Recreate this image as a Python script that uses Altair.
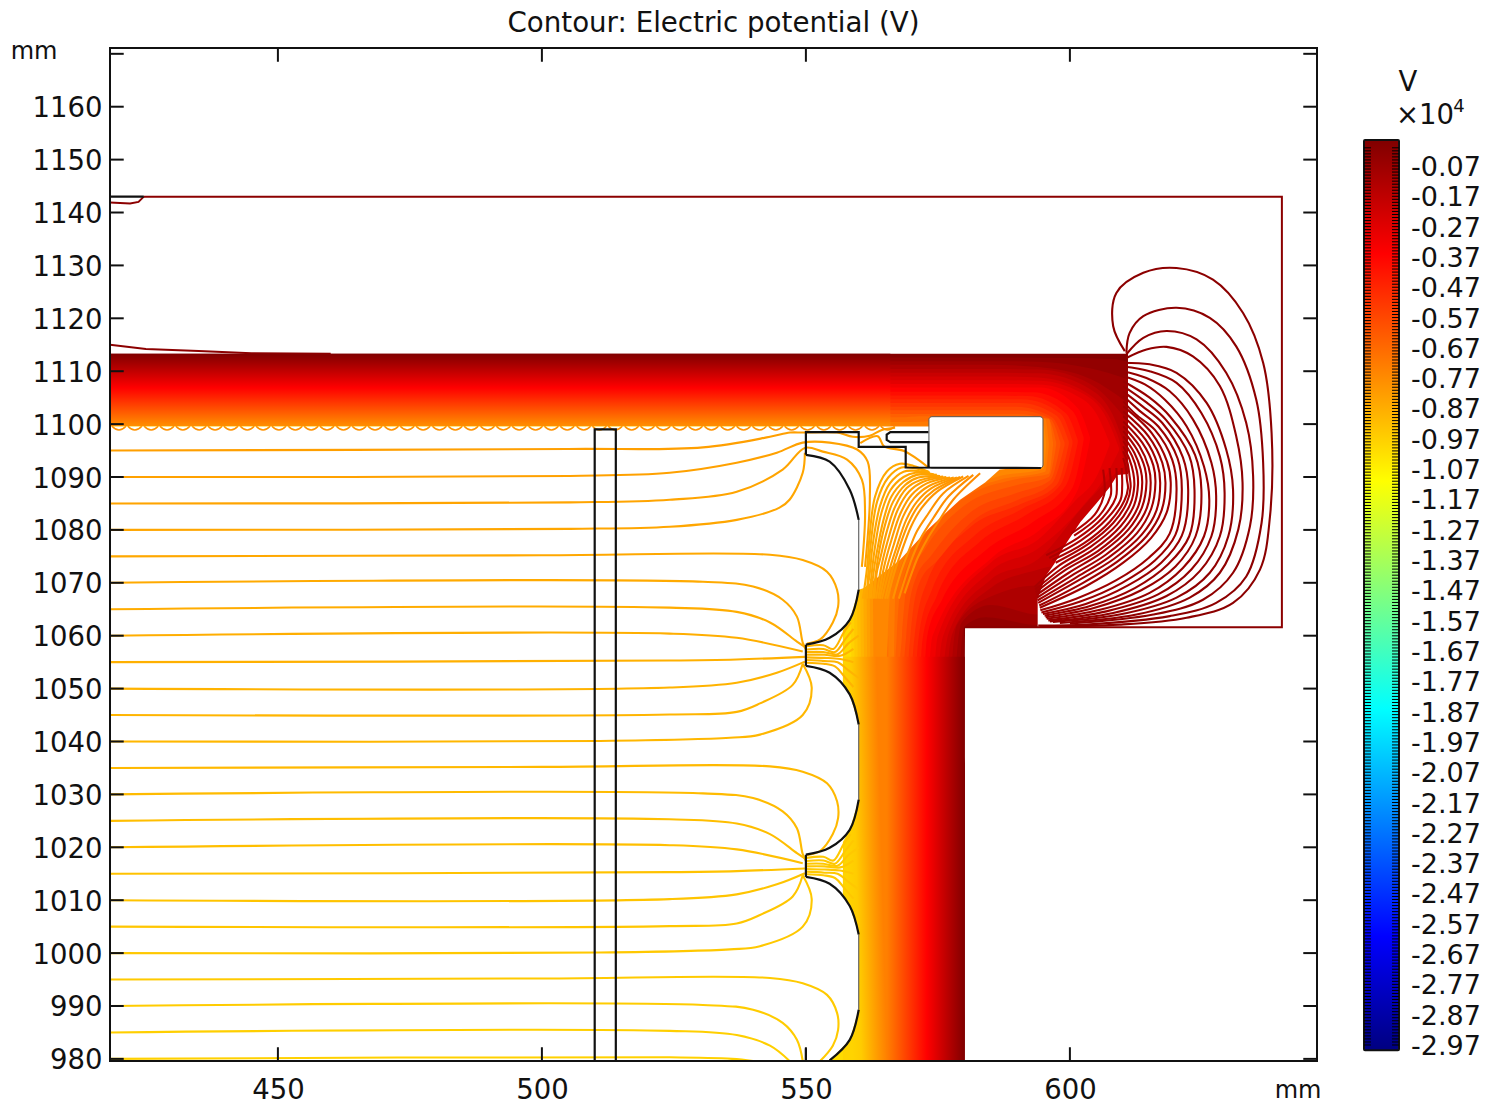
import altair as alt
import pandas as pd

# ---------- axes ----------
X_DOMAIN = [418.2, 646.8]
Y_DOMAIN = [979.6, 1171.1]
X_TICKS = [450, 500, 550, 600]
Y_TICKS = [980, 990, 1000, 1010, 1020, 1030, 1040, 1050, 1060, 1070, 1080, 1090, 1100, 1110, 1120, 1130, 1140, 1150, 1160, 1170]
Y_LABELS = Y_TICKS[:-1]
TITLE = "Contour: Electric potential (V)"

# ---------- colour scale (units of 10^4 V) ----------
CMAP_VALUES = [-2.987, -2.612, -1.862, -1.112, -0.362, 0.016]
CMAP_COLORS = ["#000080", "#0000ff", "#00ffff", "#ffff00", "#ff0000", "#800000"]
BAR_LABELS = ["-0.07", "-0.17", "-0.27", "-0.37", "-0.47", "-0.57", "-0.67", "-0.77", "-0.87", "-0.97",
              "-1.07", "-1.17", "-1.27", "-1.37", "-1.47", "-1.57", "-1.67", "-1.77", "-1.87", "-1.97",
              "-2.07", "-2.17", "-2.27", "-2.37", "-2.47", "-2.57", "-2.67", "-2.77", "-2.87", "-2.97"]

# ---------- filled field: for each level, (x, y_low, y_high) of the part lighter than it ----------
LEVEL_BANDS = [
 (0.0,  [(418.2,979.6,1113.3),(580.1,979.6,1113.3),(580.15,1061.6,1113.3),(611,1061.6,1113.3)]),
 (-.04, [(418.2,979.6,1112.6),(579.3,979.6,1112.6),(580,1061.7,1112.6),(600,1061.7,1112.5),(608,1061.7,1112.3),(611,1061.7,1111.8)]),
 (-.08, [(418.2,979.6,1111.9),(578.5,979.6,1111.9),(579,1050,1111.9),(580,1061.7,1111.9),(584,1063.5,1111.9),(594,1062,1111.8),(604,1062,1110.5),(611,1062,1108.5)]),
 (-.12, [(418.2,979.6,1111.2),(577.7,979.6,1111.2),(578.2,1050,1111.2),(579.5,1062.5,1111.2),(585,1065.8,1111.2),(594,1064,1110.8),(604,1064,1108.5),(611,1064,1104)]),
 (-.16, [(418.2,979.6,1110.4),(576.9,979.6,1110.4),(577.4,1050,1110.4),(578.6,1062,1110.4),(585,1067.4,1110.4),(594,1069.5,1110.3),(604,1069.5,1107.5),(611,1069.5,1100.5)]),
 (-.20, [(418.2,979.6,1109.7),(576.1,979.6,1109.7),(576.6,1050,1109.7),(577.8,1060.5,1109.7),(585,1069,1109.7),(594,1072.5,1109.6),(604,1075,1106.5),(608,1085,1102),(611,1090,1094)]),
 (-.24, [(418.2,979.6,1109),(575.3,979.6,1109),(575.8,1050,1109),(577.2,1061,1109),(585,1070.6,1109),(594,1074.5,1108.8),(603,1085,1106),(609,1091,1098),(610.3,1092,1092.5)]),
 (-.28, [(418.2,979.6,1108.3),(574.5,979.6,1108.3),(575,1050,1108.3),(576,1060,1108.3),(585,1072.2,1108.3),(594,1076.5,1108.2),(602,1084,1106),(607,1090.5,1101),(609.3,1095,1095.5)]),
 (-.32, [(418.2,979.6,1107.6),(573.7,979.6,1107.6),(574.2,1050,1107.6),(575,1060,1107.6),(585,1073.8,1107.6),(594,1078.2,1107.5),(601,1085.5,1105.5),(605,1090,1102),(607.5,1096,1096.5)]),
 (-.36, [(418.2,979.6,1106.9),(572.9,979.6,1106.9),(573.2,1050,1106.9),(574,1060,1106.9),(585.4,1074.9,1106.9),(594.3,1080,1106.9),(601.5,1087.6,1103),(603.8,1097,1097.5)]),
 (-.40, [(418.2,979.6,1106.1),(572.1,979.6,1106.1),(572.4,1050,1106.1),(573,1060,1106.1),(575.8,1066.8,1106.1),(584,1076.1,1106.1),(593,1081.5,1106),(600.5,1088,1102.5),(602.6,1097,1097.5)]),
 (-.44, [(418.2,979.6,1105.4),(571.3,979.6,1105.4),(571.6,1050,1105.4),(572.2,1060,1105.4),(574.8,1067.5,1105.4),(583,1077.8,1105.4),(592,1083,1105.3),(599.3,1088.5,1102),(601.5,1096.5,1097)]),
 (-.48, [(418.2,979.6,1104.7),(570.5,979.6,1104.7),(570.8,1050,1104.7),(571.4,1060,1104.7),(573.8,1068.5,1104.7),(582,1079,1104.7),(591,1084,1104.7),(598.2,1088.5,1102),(600.5,1096.3,1096.8)]),
 (-.52, [(418.2,979.6,1104),(569.7,979.6,1104),(570,1050,1104),(570.6,1060,1104),(572.9,1070,1104),(581,1080.4,1104),(590.5,1084.8,1104),(597.5,1088.5,1101.6),(599.8,1096.2,1096.7)]),
 (-.56, [(418.2,979.6,1103.3),(568.9,979.6,1103.3),(569.2,1050,1103.3),(569.8,1060,1103.3),(571.5,1070,1103.3),(575,1074.3,1103.3),(582,1082,1103.3),(590,1085.6,1103.3),(596.6,1088.8,1101.3),(599,1096,1096.5)]),
 (-.60, [(418.2,979.6,1102.6),(568.1,979.6,1102.6),(568.4,1050,1102.6),(569,1060,1102.6),(570.5,1070,1102.6),(574,1075.5,1102.6),(581,1083.2,1102.6),(590,1087,1102.6),(596.3,1089.4,1101),(598.2,1096,1096.5)]),
 (-.64, [(418.2,979.6,1101.9),(567.3,979.6,1101.9),(567.6,1050,1101.9),(568.2,1060,1101.9),(569.2,1070,1101.9),(572.5,1076.3,1101.9),(580,1084.6,1101.9),(590,1088.5,1101.9),(596,1090,1100.8),(597.4,1096,1096.5)]),
 (-.68, [(418.2,979.6,1101.3),(566.5,979.6,1101.3),(566.8,1050,1101.3),(567.2,1060,1101.3),(568,1069,1101.3),(571.5,1077.3,1101.5),(579.5,1085.7,1101.5),(590,1089.6,1101.5),(596,1090.6,1101),(596.8,1096,1096.5)]),
 (-.72, [(418.2,979.6,1100.4),(565.7,979.6,1100.4),(565.2,1050,1100.4),(565.6,1060,1100.4),(567,1069,1100.4),(570.6,1078.1,1100.4),(579.2,1086.6,1101),(586.7,1089.5,1101),(595.3,1091,1101),(596,1096,1096.5)]),
 (-.76, [(418.2,979.6,1099.7),(564.9,979.6,1099.7),(565.2,1050,1099.7),(565.5,1060,1099.7),(566,1068,1099.7),(569,1078,1099.7),(578,1086.5,1099.7),(586,1090,1099.7),(595,1091.5,1099.7),(595.5,1096,1096.5)]),
 (-.80, [(418.2,979.6,1099.6),(562.6,979.6,1099.6),(562.65,979.6,1075),(564.1,979.6,979.6)]),
 (-.83, [(418.2,979.6,1099.6),(562.0,979.6,1099.6),(562.05,979.6,1075),(563.5,979.6,979.6)]),
 (-.86, [(418.2,979.6,1099.6),(561.4,979.6,1099.6),(561.45,979.6,1075),(562.9,979.6,979.6)]),
 (-.89, [(418.2,979.6,1099.6),(560.8,979.6,1099.6),(560.85,979.6,1075),(562.3,979.6,979.6)]),
 (-.92, [(418.2,979.6,1099.6),(560.2,979.6,1099.6),(560.25,979.6,1075),(561.7,979.6,979.6)]),
 (-.95, [(418.2,979.6,1099.6),(559.6,979.6,1099.6),(559.65,979.6,1075),(561.1,979.6,979.6)]),
 (-.98, [(418.2,979.6,1099.6),(559.0,979.6,1099.6),(559.05,979.6,1075),(560.5,979.6,979.6)]),
 (-1.01,[(418.2,979.6,1099.6),(558.4,979.6,1099.6),(558.45,979.6,1075),(559.9,979.6,979.6)]),
]

# smooth straight stretches of the field
BAND_TOP = {"x": 418.2, "x2": 566.0, "y": 1099.6, "y2": 1113.3}
BAND_TOP_STOPS = [(0, "#800000"), (0.47, "#ff0000"), (1, "#ff9000")]
BAND_RIGHT = {"x": 565.3, "x2": 580.1, "y": 979.6, "y2": 1056.0}
BAND_RIGHT_STOPS = [(0, "#ff8000"), (0.514, "#ff0000"), (1, "#800000")]
BAND_GOLD = {"x": 557.0, "x2": 565.35, "y": 979.6, "y2": 1056.0}
BAND_GOLD_STOPS = [(0, "#ffd400"), (0.198, "#ffcc00"), (0.566, "#ff9800"), (0.746, "#ff8000"), (1, "#ff8000")]
BAND_GOLD_VECTOR = (0, 0.12, 1, -0.12)

# white, field-free areas: y and the right-hand limit of the air on the left
AIR_Y = [979.6, 983.6, 989.3, 1003.5, 1008.9, 1011, 1021, 1023.3, 1029, 1043.2, 1048.9, 1051, 1061, 1063, 1068.7, 1069, 1074.3, 1080, 1085.7, 1089, 1091.4, 1091.7, 1092, 1099.55]
AIR_X = [554.5, 558.3, 560, 560, 558.3, 557, 557, 558.3, 560, 560, 558.3, 557, 557, 558.3, 560, 561, 567.8, 573, 579.2, 584, 586.7, 590, 575, 575]
FAN_GAP_X = [593.9, 595.5, 597, 599, 602, 605, 607.5, 609, 611.5]
FAN_GAP_Y = [1067, 1071.4, 1073.5, 1077, 1081.5, 1085, 1088, 1090.4, 1090.6]
HOLE = {"x": 573.3, "x2": 594.9, "y": 1091.7, "y2": 1101.4}

# ---------- contour lines in the air, level and (x, y) ----------
AIR_LINES = [
 (-.83, [(418.2,1095),(505,1095.3),(530.5,1095.6),(543.2,1097.6),(547,1098.4),(549.4,1098.4),(555.9,1098.4),(558.9,1097.6),(562.1,1097.8),(564.4,1098.9),(566.9,1099.3)]),
 (-.836,[(418.2,1090),(505.3,1090.2),(524.2,1090.8),(536.9,1092.7),(544.5,1094.6),(549.4,1096.5),(554.5,1096.5),(559.7,1095.2),(561.7,1092.9),(562.1,1085.7),(561.2,1073)]),
 (-.843,[(418.2,1085),(505.3,1085.2),(524.2,1085.7),(536.9,1087.2),(545.6,1091.4),(549.8,1095.5),(553.2,1094.8),(557.8,1093.3),(560.6,1089.5),(561.2,1083.2),(560.6,1073)]),
 (-.85, [(418.2,1080),(505.3,1080.2),(524.2,1080.6),(536.9,1081.9),(545,1084.2),(546.9,1085.7),(549.4,1090.8),(549.8,1094.6)]),
 (-.856,[(418.2,1075),(500,1075.2),(543.2,1075.3),(549.4,1074.3),(554,1072.1),(555.9,1068.7),(556.1,1065.5),(555.1,1062.5),(552.7,1059.3),(550.2,1058.5)]),
 (-.862,[(418.2,1070),(530.5,1070.2),(540,1069.3),(545.6,1066.8),(548.3,1063.6),(549.4,1058.7),(550,1057.4)]),
 (-.868,[(418.2,1065),(524.2,1065.3),(536.9,1064.5),(543.2,1062.5),(548.3,1058.9),(549.8,1057.9)]),
 (-.875,[(418.2,1060),(524.2,1060.4),(536.9,1059.6),(549.4,1057)]),
 (-.881,[(418.2,1055),(524.2,1055.3),(536.9,1055.5),(549.8,1056)]),
 (-.888,[(418.2,1050),(524.2,1050.2),(536.9,1051.1),(544.5,1053),(549.8,1055.1)]),
 (-.894,[(418.2,1045),(524.2,1045.1),(536.9,1045.6),(541.3,1047.2),(547.5,1050.7),(549.4,1054.7)]),
 (-.90, [(418.2,1040),(511,1040.1),(535.6,1040.7),(541.3,1041.3),(549.4,1045),(551.1,1050.2),(549.4,1054.7)]),
 (-.906,[(418.2,1035),(500,1035.2),(543.2,1035.3),(549.4,1034.3),(554,1032.1),(555.9,1028.7),(556.1,1025.5),(555.1,1022.5),(552.7,1019.3),(550.2,1018.5)]),
 (-.913,[(418.2,1030),(530.5,1030.2),(540,1029.3),(545.6,1026.8),(548.3,1023.6),(549.4,1018.7),(550,1017.4)]),
 (-.92, [(418.2,1025),(524.2,1025.3),(536.9,1024.5),(543.2,1022.5),(548.3,1018.9),(549.8,1017.9)]),
 (-.925,[(418.2,1020),(524.2,1020.4),(536.9,1019.6),(549.4,1017)]),
 (-.932,[(418.2,1015),(524.2,1015.3),(536.9,1015.5),(549.8,1016)]),
 (-.938,[(418.2,1010),(524.2,1010.2),(536.9,1011.1),(544.5,1013),(549.8,1015.1)]),
 (-.945,[(418.2,1005),(524.2,1005.1),(536.9,1005.6),(541.3,1007.2),(547.5,1010.7),(549.4,1014.7)]),
 (-.95, [(418.2,1000),(511,1000.1),(535.6,1000.7),(541.3,1001.3),(549.4,1005),(551.1,1010.2),(549.4,1014.7)]),
 (-.957,[(418.2,995),(500,995.2),(543.2,995.3),(549.4,994.3),(554,992.1),(555.9,988.7),(556.1,985.5),(555.1,982.5),(552.7,979.6)]),
 (-.963,[(418.2,990),(530.5,990.2),(540,989.3),(545.6,986.8),(548.3,983.6),(549.4,979.6)]),
 (-.97, [(418.2,985),(524.2,985.3),(536.9,984.5),(543.2,982.5),(546.9,979.6)]),
 (-.976,[(418.2,980),(524.2,980.3),(536,980),(540,979.6)]),
 # between the electrodes
 (-.89, [(550.1,1058),(553.3,1058.2),(555.2,1057.5),(557.1,1060.5),(558.5,1062.5)]),
 (-.89, [(550.1,1057.4),(553.3,1057.5),(555.5,1056.9),(557.5,1059.4),(559,1061.3)]),
 (-.89, [(550.1,1056.9),(553.3,1056.9),(556,1056.5),(558,1058.5),(560,1060)]),
 (-.89, [(550.1,1056.4),(553.5,1056.4),(556.5,1056.2),(559,1057.5)]),
 (-.89, [(550.1,1055.9),(553.5,1055.8),(556.5,1055.6),(559,1055)]),
 (-.89, [(550.1,1055.4),(553.5,1055.2),(556,1055),(558,1053.5),(560,1052)]),
 (-.89, [(550.1,1054.9),(553.3,1054.7),(555.5,1054.2),(557.5,1052),(559,1050.3)]),
 (-.95, [(550.1,1018),(553.3,1018.2),(555.2,1017.5),(557.1,1020.5),(558.5,1022.5)]),
 (-.95, [(550.1,1017.4),(553.3,1017.5),(555.5,1016.9),(557.5,1019.4),(559,1021.3)]),
 (-.95, [(550.1,1016.9),(553.3,1016.9),(556,1016.5),(558,1018.5),(560,1020)]),
 (-.95, [(550.1,1016.4),(553.5,1016.4),(556.5,1016.2),(559,1017.5)]),
 (-.95, [(550.1,1015.9),(553.5,1015.8),(556.5,1015.6),(559,1015)]),
 (-.95, [(550.1,1015.4),(553.5,1015.2),(556,1015),(558,1013.5),(560,1012)]),
 (-.95, [(550.1,1014.9),(553.3,1014.7),(555.5,1014.2),(557.5,1012),(559,1010.3)]),
 # under the hole
 (-.83, [(560.3,1096.4),(563.6,1097.7),(564.8,1095.8),(568.6,1094.9),(573.2,1091.8)]),
 (-.86, [(573.2,1091),(570.4,1092.1),(567.8,1092.5),(565.3,1091),(563.1,1086.3),(562,1078.1),(561.6,1073),(560.8,1067)]),
 (-.855,[(573.4,1090.9),(570.4,1091.7),(568.1,1091.8),(565.6,1089.9),(563.5,1085.4),(562.3,1077.5),(561.5,1067)]),
 (-.85, [(573.5,1090.7),(570.4,1091.2),(568.5,1091),(565.9,1088.8),(564,1084.4),(562.6,1076.8),(562.1,1071.8),(561.3,1067)]),
 (-.845,[(574.2,1090.5),(570.7,1090.8),(568.5,1090),(566,1087.5),(564.3,1083.2),(563,1076.2),(562,1067)]),
 (-.84, [(574.8,1090.4),(571,1090.4),(568.5,1089.1),(566.2,1086.3),(564.7,1081.9),(563.4,1075.6),(562.8,1071.8),(562.3,1067)]),
 (-.835,[(575.4,1090.2),(571.3,1089.9),(568.8,1088.5),(566.5,1085.3),(565,1081),(563.7,1075),(562.7,1067)]),
 (-.83, [(576,1090.1),(571.6,1089.4),(569.1,1087.9),(566.9,1084.4),(565.4,1080),(564,1074.3),(563.4,1071.8),(563,1067)]),
 (-.825,[(576.6,1090),(572.2,1089.1),(569.5,1087.2),(567.4,1083.8),(565.8,1079),(564.4,1073.6),(563.3,1067)]),
 (-.82, [(577.3,1089.9),(572.9,1088.8),(570,1086.6),(567.9,1083.1),(566.2,1078.1),(564.8,1073),(563.7,1067)]),
 (-.815,[(578,1089.9),(573.3,1088.3),(570.5,1086),(568.4,1082.5),(566.7,1077.4),(565.3,1072.7),(564,1067)]),
 (-.81, [(578.6,1089.9),(573.8,1087.9),(571,1085.3),(569,1081.9),(567.2,1076.8),(565.8,1072.4),(564.4,1067)]),
 (-.805,[(579.2,1090),(574.3,1087.5),(571.4,1084.7),(569.4,1081.2),(567.6,1076.4),(566.4,1072.6),(565,1067)]),
 (-.80, [(579.8,1090.1),(574.8,1087.2),(571.9,1084.1),(569.9,1080.6),(568.1,1075.9),(566.9,1072.4),(565.4,1067)]),
 (-.79, [(580.8,1090.2),(576,1086.9),(573.2,1083.1),(571,1079.7),(569.2,1075.3),(568.1,1072.4),(566.5,1067)]),
 (-.78, [(581.7,1090.4),(577,1086.3),(574.1,1082.2),(571.9,1078.7),(570.2,1074.9),(569.4,1072.7),(567.6,1067)]),
 (-.77, [(583,1090.7),(577.9,1085.7),(575.1,1081.6),(572.9,1078.1),(571.1,1074.6),(568.7,1068)]),
]

# ---------- contour arcs on the right-hand side, all near the top of the scale ----------
ARC_LINES = [
 (-.02, [(610.4,1113.8),(608.2,1118.5),(608.8,1124.8),(613.9,1128.6),(620.2,1129.5),(627.1,1127.3),(632.8,1121),(636.6,1111.6),(638.2,1098.3),(637.9,1082.6),(636,1072.5),(630.9,1066.2),(622.1,1063.4),(609.4,1062.1),(594.3,1061.8)]),
 (-.024,[(610.7,1113.5),(611.3,1117.2),(613.9,1120.4),(620.2,1122),(626.5,1120.1),(631.5,1114.7),(635.3,1104.6),(636.6,1092.7),(636.3,1081.3),(633.4,1071.2),(627.7,1066.2),(618.9,1063.7),(603.1,1062.1),(594,1061.9)]),
 (-.028,[(610.7,1113.2),(613.9,1116.3),(618.3,1117.6),(624,1116),(629.6,1109.7),(633.4,1100.2),(634.7,1090.2),(634.1,1080.7),(630.9,1071.9),(625.2,1066.8),(615.8,1064),(600,1062.3)]),
 (-.032,[(610.7,1112.5),(614.5,1114.1),(618.3,1114.6),(623.3,1112.8),(628.4,1107.2),(631.5,1097.7),(632.7,1088.9),(631.9,1080.1),(628.4,1071.9),(622.7,1067.2),(612.6,1064),(598.1,1062.4)]),
 (-.036,[(610.2,1111.6),(615.1,1111.3),(620.2,1109.7),(625.9,1104),(629.6,1095.2),(630.9,1087.6),(630,1078.8),(626.5,1071.9),(620.2,1067.2),(609.4,1064),(596.8,1062.6)]),
 (-.04, [(610.1,1110.9),(615.1,1110),(620.2,1107.8),(624.9,1102.1),(628.4,1093.9),(629.3,1087),(628.4,1078.8),(624.6,1072.2),(618.3,1067.5),(608.2,1064.3),(596.2,1062.7)]),
 (-.044,[(610.1,1110),(614.5,1108.7),(618.9,1106.2),(623.3,1100.9),(626.8,1092.7),(627.7,1086.4),(626.8,1078.8),(623,1072.5),(616.7,1067.8),(606.9,1064.6),(595.9,1062.9)]),
 (-.048,[(610.1,1109.1),(614.2,1107.5),(618,1104.6),(622.1,1099.6),(625.4,1092),(626.4,1085.7),(625.4,1078.8),(621.4,1072.8),(615.1,1068.1),(605.7,1064.9),(595.6,1063.2)]),
 (-.052,[(610.1,1108.1),(615.1,1105),(619,1101.4),(623.7,1094.2),(624.9,1087.6),(623.8,1078.8),(620,1073.1),(613.5,1068.6),(604.7,1065.3),(595.4,1063.5)]),
 (-.056,[(610.1,1107.2),(614.5,1104.1),(618.2,1100.8),(622.6,1094),(623.6,1087.6),(622.6,1078.8),(618.6,1073.5),(612.3,1069),(603.8,1065.6),(595.2,1063.8)]),
 (-.06, [(610.1,1106.2),(613.7,1103.4),(617.5,1100.2),(621.4,1093.7),(622.4,1087.6),(621.2,1078.9),(617.3,1073.8),(611,1069.5),(603,1066),(594.9,1064.1)]),
 (-.064,[(610.1,1105.3),(613.1,1102.6),(616.8,1099.5),(620.4,1093.5),(621.2,1087.6),(620,1079.1),(616.1,1074.2),(609.9,1070),(602.1,1066.5),(594.6,1064.4)]),
 (-.068,[(610.1,1104.3),(612.5,1101.8),(616.1,1098.9),(619.4,1093.2),(620.2,1087.6),(618.9,1079.3),(614.9,1074.7),(608.8,1070.5),(601.2,1067),(594.4,1064.8)]),
 (-.072,[(610.1,1103.4),(615.5,1098.3),(618.4,1092.9),(619.1,1088.9),(618.3,1083.2),(615.4,1078.5),(610.1,1073.8),(603.1,1069.4),(594.3,1065.3)]),
 (-.076,[(610.1,1102.4),(614.9,1097.7),(617.5,1092.7),(618.1,1088.9),(617.3,1083.5),(614.5,1078.8),(609.1,1074.1),(602.5,1070),(594.2,1065.7)]),
 (-.08, [(610.1,1101.5),(614.3,1097.1),(616.6,1092.4),(617.1,1088.9),(616.4,1083.7),(613.6,1079.1),(608.3,1074.5),(601.7,1070.5),(594,1066.2)]),
 (-.084,[(610.1,1100.5),(613.7,1096.5),(615.8,1092.2),(616.2,1088.9),(615.4,1084),(612.7,1079.4),(607.5,1074.9),(601,1070.9),(593.9,1066.7)]),
 (-.088,[(610.1,1099.6),(613.2,1095.8),(614.9,1091.9),(615.3,1088.9),(614.6,1084.2),(611.9,1079.8),(606.8,1075.3),(600.4,1071.4),(593.8,1067.2)]),
 (-.092,[(610.1,1098.7),(612.7,1095.2),(614.2,1091.7),(614.5,1088.9),(613.7,1084.4),(611.1,1080.1),(606,1075.7),(599.8,1071.9),(593.7,1067.7)]),
 (-.096,[(610.1,1097.7),(612.2,1094.6),(613.4,1091.4),(613.7,1088.9),(613,1084.6),(610.4,1080.4),(605.3,1076),(599.1,1072.4),(593.5,1068.2)]),
 (-.10, [(610.1,1096.8),(611.8,1093.9),(612.7,1091.1),(612.9,1088.6),(612.2,1084.8),(609.6,1080.7),(604.6,1076.4),(598.6,1072.8),(593.4,1068.7)]),
 (-.104,[(610.1,1095.8),(611.3,1093.3),(612,1090.8),(612.2,1088.4),(611.5,1085),(608.9,1081),(603.9,1076.8),(598,1073.3),(593.3,1069.2)]),
 (-.108,[(610.1,1094.9),(610.9,1092.7),(611.3,1090.2),(611.5,1088.1),(610.8,1085.2),(608.2,1081.3),(603.3,1077.2),(597.3,1073.8)]),
 (-.112,[(610.1,1093.6),(610.6,1091.7),(610.8,1089.5),(611,1087.9),(610.3,1085.5),(607.6,1081.6),(602.7,1077.5),(596.7,1074.3)]),
 (-.116,[(609.8,1091.7),(609.9,1088.3),(609.6,1085.7),(606.9,1082),(602.1,1078),(596.1,1074.7)]),
 (-.12, [(608.8,1091.7),(608.9,1088.3),(608.7,1086.1),(606.2,1082.3),(601.4,1078.4),(595.5,1075.2)]),
 (-.124,[(607.5,1091.7),(607.8,1088.3),(607.7,1086.4),(605.5,1082.6),(600.8,1078.9)]),
 (-.128,[(606.3,1091.4),(606.6,1088.3),(606.5,1086.7),(604.7,1082.9),(600.2,1079.3)]),
]

# outer contour hugging the boundaries
EDGE_LINES = [
 (-.02, [(424.6,1143),(640.15,1143),(640.15,1061.6),(580.1,1061.6)]),
 (-.02, [(418.2,1141.9),(422,1141.7),(423.6,1142),(424.6,1143)]),
 (-.02, [(418.2,1115),(425,1114.2),(435,1113.8),(445,1113.4),(460,1113.3)]),
]

# small loops under the field edge
SCALLOP_X = [419.9,422.9,426.0,429.0,432.0,435.1,438.1,441.1,444.2,447.2,450.2,453.3,456.3,459.3,462.4,465.4,468.4,471.5,474.5,477.5,480.6,483.6,486.6,489.7,492.7,495.7,498.8,501.8,504.8,507.9,510.9,513.9,517.0,520.0,523.0,526.1,529.1,532.1,535.2,538.2,541.2,544.3,547.3,550.3,553.4,556.4,559.4,562.5,565.5]
SCALLOP_Y = 1099.45
SCALLOP_LEVEL = -.79

# ---------- black geometry ----------
GEO_HEAVY = [
 [(510,979.6),(510,1099),(514,1099),(514,979.6)],
 [(550,1094.2),(550,1098.5),(560,1098.5),(560,1095.7),(568.9,1095.7),(568.9,1091.8),(594.5,1091.7)],
 [(573.2,1098.5),(566,1098.5),(565.3,1098),(565.3,1097),(566,1096.6),(573.2,1096.6),(573.2,1091.8)],
 [(550,1058.3),(550,1054.3)],
 [(550,1018.6),(550,1014.4)],
 [(550,979.6),(550,982)],
 [(418.2,1143),(424.6,1143)],
]
GEO_CURVES = [
 [(550,1094.2),(554.5,1092.9),(558.3,1087.6),(560,1081.9)],
 [(560,1068.7),(558.3,1063),(554.5,1059.6),(550,1058.3)],
 [(550,1054.3),(554.5,1053),(558.3,1048.9),(560,1043.2)],
 [(560,1029),(558.3,1023.3),(554.5,1019.9),(550,1018.6)],
 [(550,1014.4),(554.5,1013.1),(558.3,1008.9),(560,1003.5)],
 [(560,989.3),(558.3,983.6),(554.5,979.7)],
]
GEO_THIN = [
 [(560,1081.9),(560,1068.7)],
 [(560,1043.2),(560,1029)],
 [(560,1003.5),(560,989.3)],
]

# ---------- colourbar geometry in value units ----------
BAR_TOP, BAR_BOTTOM = 0.016, -2.987
BAR_DOMAIN = [-3.0228, 0.3193]
BAR_STOPS = [(0, "#800000"), (0.125, "#ff0000"), (0.375, "#ffff00"), (0.625, "#00ffff"), (0.875, "#0000ff"), (1, "#000080")]
BAR_TICK_LEVELS = [round(-0.01 * i, 2) for i in range(1, 298)]

FONT = "DejaVu Sans"
INK = "#111111"
LABEL_SIZE = 27.5

x_scale = alt.Scale(domain=X_DOMAIN, nice=False, zero=False)
y_scale = alt.Scale(domain=Y_DOMAIN, nice=False, zero=False)
color_scale = alt.Scale(domain=CMAP_VALUES, range=CMAP_COLORS, interpolate="rgb")
bar_scale = alt.Scale(domain=BAR_DOMAIN, nice=False, zero=False)

x_axis = alt.Axis(values=X_TICKS, ticks=False, domain=False, grid=False, labelFont=FONT, title=None,
                  labelFontSize=LABEL_SIZE, labelColor=INK, labelPadding=15, format="d")
y_axis = alt.Axis(values=Y_LABELS, ticks=False, domain=False, grid=False, labelFont=FONT, title=None,
                  labelFontSize=LABEL_SIZE, labelColor=INK, labelPadding=8, labelOffset=2, format="d")


def X(f="x"):
    return alt.X(f + ":Q", scale=x_scale, axis=x_axis)


def Y(f="y"):
    return alt.Y(f + ":Q", scale=y_scale, axis=y_axis, stack=None)


def level_color(v):
    """Colour that the shared colour scale gives a level (for single-colour area fills)."""
    for i in range(len(CMAP_VALUES) - 1):
        a, b = CMAP_VALUES[i], CMAP_VALUES[i + 1]
        if a <= v <= b:
            t = (v - a) / (b - a)
            c0 = CMAP_COLORS[i]
            c1 = CMAP_COLORS[i + 1]
            ch = [round(int(c0[k:k + 2], 16) * (1 - t) + int(c1[k:k + 2], 16) * t) for k in (1, 3, 5)]
            return "#%02x%02x%02x" % tuple(ch)
    return CMAP_COLORS[-1]


def curve_df(curves):
    rows = []
    for cid, (lvl, pts) in enumerate(curves):
        for seq, (x, y) in enumerate(pts):
            rows.append({"id": cid, "seq": seq, "level": lvl, "x": x, "y": y})
    return pd.DataFrame(rows)


def geo_df(curves):
    rows = []
    for cid, pts in enumerate(curves):
        for seq, (x, y) in enumerate(pts):
            rows.append({"id": cid, "seq": seq, "x": x, "y": y})
    return pd.DataFrame(rows)


def lines(df, width, interp="catmull-rom"):
    return alt.Chart(df).mark_line(strokeWidth=width, interpolate=interp).encode(
        x=X(), y=Y(), detail="id:N", order="seq:Q",
        color=alt.Color("level:Q", scale=color_scale, legend=None))


def geo(df, width, color, interp="linear"):
    return alt.Chart(df).mark_line(strokeWidth=width, color=color, interpolate=interp).encode(
        x=X(), y=Y(), detail="id:N", order="seq:Q")


def gradient_rect(box, stops, vector):
    grad = alt.Gradient(gradient="linear",
                        stops=[alt.GradientStop(offset=o, color=c) for o, c in stops],
                        x1=vector[0], y1=vector[1], x2=vector[2], y2=vector[3])
    return alt.Chart(pd.DataFrame([box])).mark_rect(fill=grad, strokeWidth=0).encode(
        x=X(), x2="x2:Q", y=Y(), y2="y2:Q")


field_layers = []
for lvl, rows in LEVEL_BANDS:
    d = pd.DataFrame(rows, columns=["x", "lo", "hi"])
    field_layers.append(alt.Chart(d).mark_area(orient="vertical", interpolate="monotone", fill=level_color(lvl)).encode(
        x=X(), y=alt.Y("lo:Q", scale=y_scale, axis=y_axis, stack=None), y2="hi:Q"))

top_band = gradient_rect(BAND_TOP, BAND_TOP_STOPS, (0, 0, 0, 1))
right_band = gradient_rect(BAND_RIGHT, BAND_RIGHT_STOPS, (0, 0, 1, 0))
gold_band = gradient_rect(BAND_GOLD, BAND_GOLD_STOPS, BAND_GOLD_VECTOR)

air_mask = alt.Chart(pd.DataFrame({"y": AIR_Y, "right": AIR_X, "left": [X_DOMAIN[0]] * len(AIR_Y)})).mark_area(
    orient="horizontal", fill="white", interpolate="linear").encode(
    y=Y(), x=alt.X("left:Q", scale=x_scale, axis=x_axis, stack=None), x2="right:Q")
fan_mask = alt.Chart(pd.DataFrame({"x": FAN_GAP_X, "top": FAN_GAP_Y, "bottom": [1061.6] * len(FAN_GAP_X)})).mark_area(
    orient="vertical", fill="white", interpolate="linear").encode(
    x=X(), y=alt.Y("bottom:Q", scale=y_scale, axis=y_axis, stack=None), y2="top:Q")
hole = alt.Chart(pd.DataFrame([HOLE])).mark_rect(fill="white", stroke="#555555", strokeWidth=1, cornerRadius=3).encode(
    x=X(), x2="x2:Q", y=Y(), y2="y2:Q")

scallops = alt.Chart(pd.DataFrame({"x": SCALLOP_X, "y": [SCALLOP_Y] * len(SCALLOP_X), "level": [SCALLOP_LEVEL] * len(SCALLOP_X)})).mark_point(
    shape="M -1 -0.1 Q 0 0.95 1 -0.1", size=196, filled=False, strokeWidth=1.6, opacity=1).encode(
    x=X(), y=Y(), stroke=alt.Stroke("level:Q", scale=color_scale, legend=None))

tick_rows = []
for v in X_TICKS:
    tick_rows.append({"x": v, "x2": v, "y": Y_DOMAIN[0], "y2": Y_DOMAIN[0] + 2.6})
    tick_rows.append({"x": v, "x2": v, "y": Y_DOMAIN[1] - 2.6, "y2": Y_DOMAIN[1]})
for v in Y_TICKS:
    tick_rows.append({"x": X_DOMAIN[0], "x2": X_DOMAIN[0] + 2.6, "y": v, "y2": v})
    tick_rows.append({"x": X_DOMAIN[1] - 2.6, "x2": X_DOMAIN[1], "y": v, "y2": v})
ticks = alt.Chart(pd.DataFrame(tick_rows)).mark_rule(color="#111111", strokeWidth=2).encode(
    x=X(), x2="x2:Q", y=Y(), y2="y2:Q")
frame = alt.Chart(pd.DataFrame([{"x": X_DOMAIN[0], "x2": X_DOMAIN[1], "y": Y_DOMAIN[0], "y2": Y_DOMAIN[1]}])).mark_rect(
    fillOpacity=0, stroke="#111111", strokeWidth=2).encode(x=X(), x2="x2:Q", y=Y(), y2="y2:Q")


def label(text, px, py, size=24, align="center"):
    return alt.Chart(pd.DataFrame({"t": [text]})).mark_text(
        font=FONT, fontSize=size, color=INK, align=align, baseline="middle", dy=2).encode(
        x=alt.value(px - 110), y=alt.value(py - 48), text="t:N")


main = alt.layer(
    *field_layers, top_band, right_band, gold_band, air_mask, fan_mask, hole,
    lines(curve_df(AIR_LINES), 2.1), lines(curve_df(ARC_LINES), 2.1),
    lines(curve_df(EDGE_LINES), 2, "linear"), scallops,
    geo(geo_df(GEO_THIN), 1.2, "#666666"), geo(geo_df(GEO_HEAVY), 2.2, "#111111"),
    geo(geo_df(GEO_CURVES), 2.2, "#111111", "catmull-rom"),
    ticks, frame,
    label("mm", 34, 50), label("mm", 1298, 1089),
    label("V", 1408, 81, LABEL_SIZE), label("×10", 1425, 114, LABEL_SIZE), label("4", 1459, 105, 18),
)

BAR_LEFT, BAR_RIGHT = 1254, 1289
bar_y = alt.Y("top:Q", scale=bar_scale, axis=None)
bar_grad = alt.Gradient(gradient="linear", stops=[alt.GradientStop(offset=o, color=c) for o, c in BAR_STOPS],
                        x1=0, y1=0, x2=0, y2=1)
bar_body = alt.Chart(pd.DataFrame({"top": [BAR_TOP], "bot": [BAR_BOTTOM]})).mark_rect(
    fill=bar_grad, stroke="#111111", strokeWidth=2, cornerRadius=1).encode(
    x=alt.value(BAR_LEFT), x2=alt.value(BAR_RIGHT), y=bar_y, y2="bot:Q")
bar_ticks_l = alt.Chart(pd.DataFrame({"v": BAR_TICK_LEVELS})).mark_rule(color="#000000", strokeWidth=1).encode(
    x=alt.value(BAR_LEFT), x2=alt.value(BAR_LEFT + 7), y=alt.Y("v:Q", scale=bar_scale, axis=None))
bar_ticks_r = alt.Chart(pd.DataFrame({"v": BAR_TICK_LEVELS})).mark_rule(color="#000000", strokeWidth=1).encode(
    x=alt.value(BAR_RIGHT - 7), x2=alt.value(BAR_RIGHT), y=alt.Y("v:Q", scale=bar_scale, axis=None))
bar_text = alt.Chart(pd.DataFrame({"t": BAR_LABELS, "v": [float(s) for s in BAR_LABELS]})).mark_text(
    font=FONT, fontSize=27, color=INK, align="left", baseline="middle", dy=2).encode(
    x=alt.value(1301), y=alt.Y("v:Q", scale=bar_scale, axis=None), text="t:N")
colorbar = alt.layer(bar_body, bar_ticks_l, bar_ticks_r, bar_text)

chart = alt.layer(main, colorbar).resolve_scale(y="independent").properties(
    width=1207, height=1013,
    padding={"left": 102, "top": 40, "right": 164, "bottom": 48},
    autosize=alt.AutoSizeParams(type="none"),
    title=alt.TitleParams(TITLE, font=FONT, fontSize=27.7, fontWeight="normal", color=INK, anchor="middle", offset=2),
).configure_view(stroke=None)

chart.save("out.html", embed_options={"renderer": "svg", "actions": False})
